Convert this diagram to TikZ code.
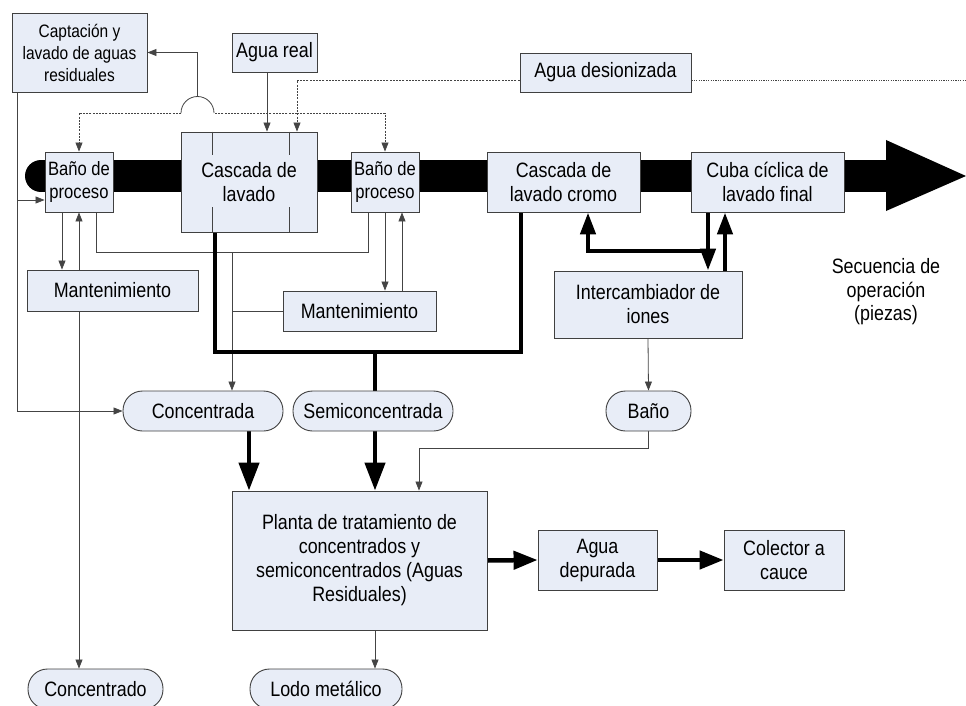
\documentclass[tikz,border=0pt]{standalone}
\usepackage{fontspec}
\setmainfont{Liberation Sans}[FakeStretch=0.86]
\usetikzlibrary{arrows.meta}
\definecolor{boxfill}{HTML}{E8EDF7}
\definecolor{boxdraw}{HTML}{404040}
\definecolor{wirec}{HTML}{444444}
\pgfdeclarelayer{band}
\pgfdeclarelayer{wires}
\pgfsetlayers{band,wires,main}
\begin{document}
\begin{tikzpicture}[x=1pt,y=-1pt,
  box/.style={draw=boxdraw,fill=boxfill,line width=0.9pt,inner sep=1pt,align=center,
    font=\fontsize{20.8}{24}\selectfont},
  pill/.style={box,rounded corners=19.5pt},
  plain/.style={inner sep=1pt,align=center,font=\fontsize{20.8}{23.5}\selectfont},
  wire/.style={draw=wirec,line width=0.8pt},
  arr/.style={wire,-{Triangle[length=9pt,width=7pt]}},
  dsh/.style={draw=wirec,line width=0.8pt,dash pattern=on 2pt off 1.2pt},
  dsharr/.style={dsh,-{Triangle[length=9pt,width=7pt]}},
  dotl/.style={draw=wirec,line width=0.7pt,dash pattern=on 1.2pt off 1.2pt},
  heavy/.style={draw=black,line width=4.5pt,line cap=round},
  heavyarr/.style={heavy,-{Triangle[length=28pt,width=20pt]}},
  heavyarrh/.style={heavy,-{Triangle[length=24pt,width=18pt]}},
  heavyarrs/.style={heavy,-{Triangle[length=22pt,width=15pt]}},
]
\clip (0,0) rectangle (966,706);
\path[use as bounding box] (0,0) rectangle (966,706);

% nodes
\node[box,minimum width=135pt,minimum height=79pt,font=\fontsize{18}{22}\selectfont] (cap) at (79.5,52.5) {Captación y\\lavado de aguas\\residuales};
\node[box,minimum width=85pt,minimum height=39pt] (real) at (274.5,52.5) {Agua real};
\node[box,minimum width=171pt,minimum height=39pt] (desion) at (605.5,72.5) {Agua desionizada};
\node[box,minimum width=68pt,minimum height=60pt,inner sep=0pt,font=\fontsize{19.3}{23}\selectfont] (bano1) at (79,182) {Baño de\\proceso};
\node[box,minimum width=136pt,minimum height=100pt] (casc) at (249,182) {Cascada de\\lavado};
\node[box,minimum width=68pt,minimum height=60pt,inner sep=0pt,font=\fontsize{19.3}{23}\selectfont] (bano2) at (385,182) {Baño de\\proceso};
\node[box,minimum width=153pt,minimum height=60pt] (cromo) at (563.5,182) {Cascada de\\lavado cromo};
\node[box,minimum width=153pt,minimum height=60pt] (cuba) at (767.5,182) {Cuba cíclica de\\lavado final};
\node[box,minimum width=171pt,minimum height=41pt] (mant1) at (112.5,290.5) {Mantenimiento};
\node[box,minimum width=153pt,minimum height=40pt] (mant2) at (359.5,311) {Mantenimiento};
\node[box,minimum width=188pt,minimum height=67pt] (inter) at (648,304.5) {Intercambiador de\\iones};
\node[plain] (sec) at (886,292) {Secuencia de\\operación\\(piezas)};
\node[pill,minimum width=160pt,minimum height=40pt] (conc) at (203,411) {Concentrada};
\node[pill,minimum width=160pt,minimum height=40pt] (semi) at (373,411) {Semiconcentrada};
\node[pill,minimum width=85pt,minimum height=40pt] (bano) at (648.5,411) {Baño};
\node[box,minimum width=255pt,minimum height=139pt] (planta) at (359.5,560.5) {Planta de tratamiento de\\concentrados y\\semiconcentrados (Aguas\\Residuales)};
\node[box,minimum width=119pt,minimum height=60pt] (depur) at (597.5,560) {Agua\\depurada};
\node[box,minimum width=120pt,minimum height=60pt] (colec) at (784,560) {Colector a\\cauce};
\node[pill,minimum width=135pt,minimum height=40pt] (concdo) at (95.5,689) {Concentrado};
\node[pill,minimum width=152pt,minimum height=40pt] (lodo) at (326,689) {Lodo metálico};

% inner lines of the cascade
\draw[wire] (212,0 |- casc.north) -- (212,155);
\draw[wire] (289,0 |- casc.north) -- (289,155);
\draw[wire] (212,207) -- (212,0 |- casc.south);
\draw[wire] (289,207) -- (289,0 |- casc.south);

\coordinate (rightend) at (966,80);
\coordinate (hopR) at (214,113);
\coordinate (hopL) at (181,113);
\coordinate (hoptop) at (197.5,96.5);

\begin{pgfonlayer}{band}
  \fill[black] (41,176) circle (16pt);
  \fill[black] (41,160) rectangle (887,192);
  \fill[black] (886,140) -- (966,176) -- (886,211) -- cycle;
\end{pgfonlayer}

\begin{pgfonlayer}{wires}
  % water inputs
  \draw[arr] (267,0 |- real.south) -- (267,0 |- casc.north);
  \draw[dsharr] (desion.west |- rightend) -- (297,80) -- (297,0 |- casc.north);
  \draw[dotl] (desion.east |- rightend) -- (rightend);
  \draw[dsh] (297,113) -- (hopR);
  \draw[wire] (hopR) arc[start angle=0,end angle=180,radius=16.5pt];
  \draw[dsharr] (hopL) -- (79,113) -- (bano1.north);
  \draw[dsharr] (297,113) -- (385,113) -- (bano2.north);
  \draw[arr] (hoptop) |- (cap.east);
  % left collector
  \draw[arr] (17,0 |- cap.south) |- (conc.west);
  \draw[arr] (17,200) -- (bano1.west |- 0,200);
  % bano 1 and maintenance
  \draw[arr] (62,0 |- bano1.south) -- (62,0 |- mant1.north);
  \draw[arr] (79,0 |- mant1.north) -- (bano1.south);
  \draw[arr] (79,0 |- mant1.south) -- (79,0 |- concdo.north);
  \draw[wire] (96,0 |- bano1.south) |- (368,252) -- (368,0 |- bano2.south);
  \draw[arr] (232,252) -- (232,0 |- conc.north);
  \draw[wire] (232,311) -- (mant2.west);
  \draw[arr] (385,0 |- bano2.south) -- (385,0 |- mant2.north);
  \draw[arr] (402,0 |- mant2.north) -- (402,0 |- bano2.south);
  % heavy semi-concentrated line
  \draw[heavy,line cap=butt,line join=miter] (215,0 |- casc.south) -- (215,352) -| (521,0 |- cromo.south);
  \draw[heavy,line cap=butt] (375,352) -- (375,0 |- semi.north);
  \draw[heavyarr,line cap=butt] (249,0 |- conc.south) -- (249,0 |- planta.north);
  \draw[heavyarr,line cap=butt] (375,0 |- semi.south) -- (375,0 |- planta.north);
  % ion exchanger
  \draw[heavyarrs,line cap=butt] (708,0 |- cuba.south) -- (708,0 |- inter.north);
  \draw[heavyarrs,line cap=butt] (725,0 |- inter.north) -- (725,0 |- cuba.south);
  \draw[heavyarrs,line cap=butt,line join=miter] (708,251) -- (588,251) -- (588,0 |- cromo.south);
  \draw[arr] (inter.south) -- (bano.north);
  \draw[arr] (648,0 |- bano.south) |- (419,448) -- (419,0 |- planta.north);
  % treatment plant outputs
  \draw[arr] (375,0 |- planta.south) -- (375,0 |- lodo.north);
  \draw[heavyarrh] (planta.east) -- (depur.west);
  \draw[heavyarrh] (depur.east) -- (colec.west);
\end{pgfonlayer}
\end{tikzpicture}
\end{document}
